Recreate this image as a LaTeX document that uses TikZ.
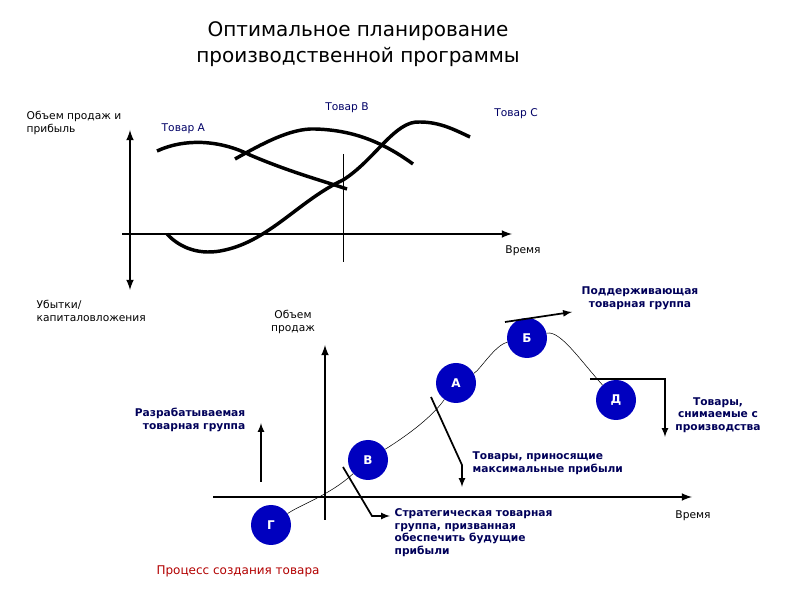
\documentclass[tikz,border=0pt]{standalone}
\usepackage{fontspec}
\setmainfont{DejaVu Sans}
\begin{document}
\begin{tikzpicture}[x=0.75pt,y=-0.75pt,
  ax/.style={line width=1.6pt,-latex},
  crv/.style={line width=2.6pt},
  lbl/.style={font=\fontsize{8}{9.5}\selectfont,align=left},
  blbl/.style={font=\bfseries\fontsize{8}{9.5}\selectfont,text=blue!35!black,align=left},
  ball/.style={circle,fill=blue!75!black,minimum size=30pt,inner sep=0pt,text=white,font=\bfseries\fontsize{9}{9}\selectfont},
  arr/.style={line width=1.3pt,-latex}]
\useasboundingbox (0,0) rectangle (794,595);
\node[font=\fontsize{15}{19}\selectfont,align=center] (title) at (358,44) {Оптимальное планирование\\производственной программы};
% top chart
\coordinate (ytop) at (130,130); \coordinate (ybot) at (130,290);
\draw[line width=1.6pt,latex-latex] (ytop) -- (ybot);
\coordinate (x0) at (122,234); \coordinate (x1) at (512,234);
\draw[ax] (x0) -- (x1);
\coordinate (v0) at (343,154); \coordinate (v1) at (343,262);
\draw[thin] (v0) -- (v1);
\draw[crv] (157,151) .. controls (185,138) and (220,140) .. (250,155) .. controls (290,172) and (320,180) .. (347,189);
\draw[crv] (235,159) .. controls (260,145) and (290,128) .. (315,129) .. controls (350,130) and (380,140) .. (413,164);
\draw[crv] (167,234) .. controls (180,248) and (200,256) .. (225,250) .. controls (270,240) and (300,200) .. (343,180) .. controls (375,160) and (395,120) .. (420,122) .. controls (440,122) and (455,130) .. (470,137);
\node[lbl,anchor=north west] (t1) at (22,107) {Объем продаж и\\прибыль};
\node[lbl,text=blue!40!black,anchor=west] (ta) at (157,129) {Товар А};
\node[lbl,text=blue!40!black] (tb) at (347,108) {Товар В};
\node[lbl,text=blue!40!black] (tc) at (516,114) {Товар С};
\node[lbl] (tt) at (523,251) {Время};
\node[lbl,anchor=north west] (t2) at (32,296) {Убытки/\\капиталовложения};
% bottom chart
\node[lbl,align=center] (t3) at (293,322) {Объем\\продаж};
\draw[ax] (325,520) -- (325,345);
\draw[ax] (213,497) -- (692,497);
\node[lbl] (tt2) at (693,516) {Время};
\node[ball] (G) at (271,525) {Г};
\node[ball] (V) at (368,460) {В};
\node[ball] (A) at (456,383) {А};
\node[ball] (B) at (527,338) {Б};
\node[ball] (D) at (616,400) {Д};
\draw[thin] (G) .. controls (300,505) and (330,495) .. (V) .. controls (400,440) and (430,420) .. (A) .. controls (480,370) and (495,345) .. (B) .. controls (560,330) and (580,360) .. (D);
\coordinate (s0) at (261,482); \coordinate (s1) at (261,423);
\draw[arr] (s0) -- (s1);
\node[blbl,align=right,anchor=east] (dev) at (250,420) {Разрабатываемая\\товарная группа};
\coordinate (p0) at (505,322); \coordinate (p1) at (572,312);
\draw[arr] (p0) -- (p1);
\node[blbl,align=center] (sup) at (640,298) {Поддерживающая\\товарная группа};
\coordinate (d0) at (590,379); \coordinate (d1) at (665,379); \coordinate (d2) at (665,437);
\draw[arr] (d0) -- (d1) -- (d2);
\node[blbl,align=center] (wd) at (718,415) {Товары,\\снимаемые с\\производства};
\coordinate (m0) at (431,397); \coordinate (m1) at (462,465); \coordinate (m2) at (462,487);
\draw[arr] (m0) -- (m1) -- (m2);
\node[blbl,anchor=north west] (mx) at (468,447) {Товары, приносящие\\максимальные прибыли};
\coordinate (q0) at (343,467); \coordinate (q1) at (372,516); \coordinate (q2) at (390,516);
\draw[arr] (q0) -- (q1) -- (q2);
\node[blbl,anchor=north west] (st) at (390,504) {Стратегическая товарная\\группа, призванная\\обеспечить будущие\\прибыли};
\node[font=\fontsize{9}{11}\selectfont,text=red!70!black] (proc) at (238,571) {Процесс создания товара};
\end{tikzpicture}
\end{document}
